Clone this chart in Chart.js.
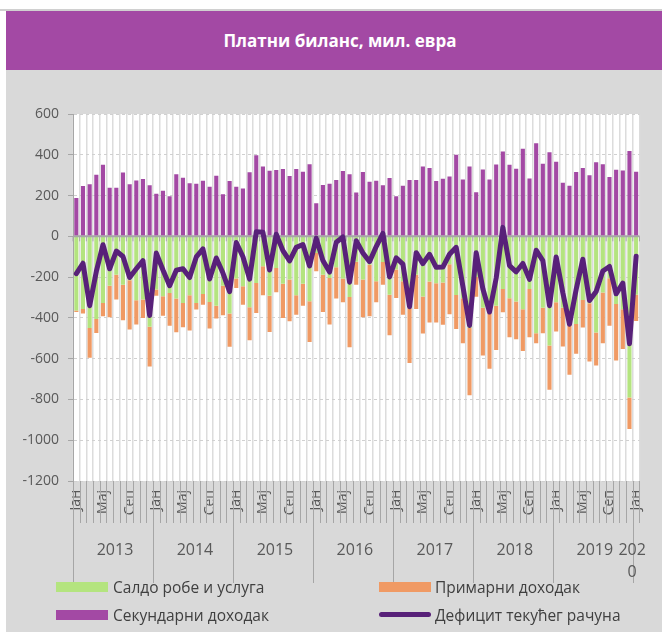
<!DOCTYPE html>
<html><head><meta charset="utf-8">
<script src="https://cdn.jsdelivr.net/npm/chart.js@4/dist/chart.umd.min.js"></script>
<style>
html,body{margin:0;padding:0;background:#fff;}
#wrap{position:relative;width:662px;height:632px;overflow:hidden;font-family:"Open Sans",sans-serif;}
#topline{position:absolute;left:0;top:9px;width:662px;height:2px;background:#d0d0d0;}
#title{position:absolute;left:6px;top:11px;width:656px;height:59px;background:#A349A4;color:#fff;font-weight:bold;font-size:17px;line-height:59px;text-align:center;box-sizing:border-box;padding-left:12px;}
#bg{position:absolute;left:6px;top:70px;width:656px;height:562px;background:#D9D9D9;}
canvas{position:absolute;left:0;top:0;}
.leg{position:absolute;font-size:15.5px;color:#404040;line-height:18px;white-space:nowrap;}
.sw{position:absolute;width:52px;height:10px;}
</style></head>
<body>
<div id="wrap">
  <div id="topline"></div>
  <div id="title">Платни биланс, мил. евра</div>
  <div id="bg"></div>
  <canvas id="c" width="662" height="632"></canvas>
  <div class="sw" style="left:56px;top:582px;background:#B4E47F"></div>
  <div class="leg" style="left:113px;top:578px">Салдо робе и услуга</div>
  <div class="sw" style="left:379px;top:582px;background:#F09A64"></div>
  <div class="leg" style="left:435px;top:578px">Примарни доходак</div>
  <div class="sw" style="left:56px;top:610px;background:#A349A4"></div>
  <div class="leg" style="left:113px;top:606px">Секундарни доходак</div>
  <div class="sw" style="left:379px;top:612px;height:5px;border-radius:3px;background:#582179"></div>
  <div class="leg" style="left:435px;top:606px">Дефицит текућег рачуна</div>
</div>
<script>
const years = [2013, 2014, 2015, 2016, 2017, 2018, 2019, 2020];
const months = ['Јан','Феб','Мар','Апр','Мај','Јун','Јул','Авг','Сеп','Окт','Нов','Дец'];
const yTicks = [600, 400, 200, 0, -200, -400, -600, -800, -1000, -1200];

// Салдо робе и услуга
const goods = [-364,-356,-449,-405,-327,-242,-188,-237,-216,-314,-310,-443,
-261,-294,-278,-305,-327,-289,-327,-283,-322,-340,-242,-379,
-207,-245,-348,-229,-147,-291,-155,-232,-212,-289,-232,-318,
-82,-188,-204,-152,-207,-297,-125,-212,-139,-220,-126,-286,
-163,-220,-351,-188,-295,-222,-230,-227,-137,-288,-304,-450,
-200,-350,-355,-340,-258,-304,-320,-358,-258,-475,-350,-535,
-323,-350,-405,-430,-312,-328,-472,-276,-206,-332,-358,-790,
-287];
// Примарни доходак
const primary = [-7,-23,-147,-69,-65,-155,-122,-175,-241,-119,-90,-195,
-30,-95,-160,-165,-119,-173,-32,-52,-130,-63,-145,-163,
-46,-90,-162,-147,-142,-178,-119,-168,-204,-95,-108,-200,
-89,-183,-229,-153,-116,-247,-112,-185,-253,-103,-111,-199,
-139,-164,-270,-168,-182,-201,-193,-207,-245,-166,-220,-330,
-96,-235,-295,-217,-114,-191,-185,-204,-237,-49,-125,-218,
-144,-190,-274,-146,-135,-286,-162,-248,-233,-277,-194,-155,
-128];
// Секундарни доходак
const secondary = [188,247,256,302,351,238,238,313,255,274,281,250,
209,224,196,304,287,260,258,273,243,297,207,271,
243,235,314,398,342,322,325,330,296,330,317,354,
162,252,258,276,320,305,215,315,268,273,251,286,
196,248,276,276,343,335,271,283,294,400,279,343,
216,328,279,352,416,351,331,429,284,456,356,413,
366,263,248,315,335,299,363,354,291,327,323,418,
317];
// Дефицит текућег рачуна
const deficit = [-183,-132,-340,-172,-41,-159,-72,-99,-202,-159,-119,-388,
-82,-165,-242,-166,-159,-202,-101,-62,-209,-106,-180,-271,
-30,-100,-210,22,20,-165,10,-70,-120,-54,-40,-145,
-9,-119,-175,-29,-3,-225,-22,-82,-124,-50,14,-199,
-106,-136,-345,-80,-134,-88,-152,-151,-88,-54,-245,-437,
-80,-257,-371,-205,44,-144,-174,-133,-211,-68,-119,-340,
-101,-277,-431,-261,-112,-315,-271,-170,-148,-282,-229,-527,
-98];

const categories = [];
years.forEach(y => { months.forEach(m => { if (y < 2020 || m === 'Јан') categories.push(m + ' ' + y); }); });

const FONT = '"Open Sans", sans-serif';
const decor = {
  id: 'decor',
  beforeDraw(chart) {
    const {ctx, chartArea: a} = chart;
    ctx.save(); ctx.fillStyle = '#fff';
    ctx.fillRect(a.left, a.top, a.right - a.left, a.bottom - a.top);
    ctx.restore();
  },
  beforeDatasetDraw(chart, args) {
    if (args.meta.type !== 'line') return;
    const {ctx, chartArea: a, scales: {x, y}} = chart;
    const y0 = y.getPixelForValue(0);
    const step = x.getPixelForValue(1) - x.getPixelForValue(0);
    ctx.save();
    ctx.strokeStyle = '#a6a6a6'; ctx.lineWidth = 1;
    for (let k = 0; k <= categories.length; k++) {
      const px = x.getPixelForValue(0) + (k - 0.5) * step;
      ctx.beginPath(); ctx.moveTo(px, y0); ctx.lineTo(px, y0 + 5); ctx.stroke();
    }
    ctx.lineWidth = 2;
    ctx.beginPath(); ctx.moveTo(a.left, y0); ctx.lineTo(a.right, y0); ctx.stroke();
    ctx.restore();
  },
  afterDraw(chart) {
    const {ctx, chartArea: a, scales: {x}} = chart;
    const step = x.getPixelForValue(1) - x.getPixelForValue(0);
    ctx.save();
    ctx.strokeStyle = '#a6a6a6'; ctx.lineWidth = 1;
    for (let k = 0; k <= categories.length; k++) {
      const px = Math.round(x.getPixelForValue(0) + (k - 0.5) * step) + 0.5;
      const len = (k % 12 === 0) ? 102 : 42;
      ctx.beginPath(); ctx.moveTo(px, a.bottom); ctx.lineTo(px, a.bottom + len); ctx.stroke();
    }
    ctx.fillStyle = '#595959';
    ctx.font = '16px ' + FONT;
    ctx.textAlign = 'center'; ctx.textBaseline = 'middle';
    years.forEach((yr, j) => {
      const i0 = j * 12;
      if (yr < 2020) {
        const cx = (x.getPixelForValue(i0) + x.getPixelForValue(i0 + 11)) / 2 + 2;
        ctx.fillText(String(yr), cx, 550);
      } else {
        const cx = x.getPixelForValue(i0) - 4;
        ctx.fillText('202', cx, 550);
        ctx.fillText('0', cx, 572);
      }
    });
    ctx.restore();
  }
};

new Chart(document.getElementById('c'), {
  type: 'bar',
  data: {
    labels: categories,
    datasets: [
      {type: 'line', label: 'Дефицит текућег рачуна', data: deficit, borderColor: '#582179', borderWidth: 5,
       pointRadius: 0, tension: 0, order: 0, borderJoinStyle: 'round', borderCapStyle: 'round', fill: false},
      {label: 'Салдо робе и услуга', data: goods, backgroundColor: '#B4E47F', stack: 's', order: 1},
      {label: 'Примарни доходак', data: primary, backgroundColor: '#F09A64', stack: 's', order: 1},
      {label: 'Секундарни доходак', data: secondary, backgroundColor: '#A349A4', stack: 's', order: 1}
    ]
  },
  options: {
    responsive: false, animation: false,
    layout: {padding: {left: 10, right: 11, top: 114, bottom: 91}},
    plugins: {legend: {display: false}, tooltip: {enabled: false}, title: {display: false}},
    datasets: {bar: {barPercentage: 0.62, categoryPercentage: 1}},
    scales: {
      x: {
        stacked: true,
        grid: {offset: true, color: '#dcdcdc', lineWidth: 1.5, drawTicks: false},
        border: {display: false},
        ticks: {autoSkip: false, minRotation: 90, maxRotation: 90, padding: 9,
          font: {family: FONT, size: 14}, color: '#595959',
          callback: (v, i) => (i % 4 === 0 ? categories[i].split(' ')[0] : '')},
        afterFit(s) { s.height = 60; }
      },
      y: {
        stacked: true, min: yTicks[yTicks.length - 1], max: yTicks[0],
        afterBuildTicks(s) { s.ticks = yTicks.map(v => ({value: v})); },
        ticks: {padding: 9, font: {family: FONT, size: 14}, color: '#595959',
          callback: v => String(v)},
        grid: {color: '#d0d0d0', lineWidth: 1, tickLength: 5, tickColor: '#a6a6a6'},
        border: {display: true, color: '#a6a6a6', width: 1, dash: [3, 3]},
        afterFit(s) { s.width = 63; }
      }
    }
  },
  plugins: [decor]
});
</script>
</body></html>
